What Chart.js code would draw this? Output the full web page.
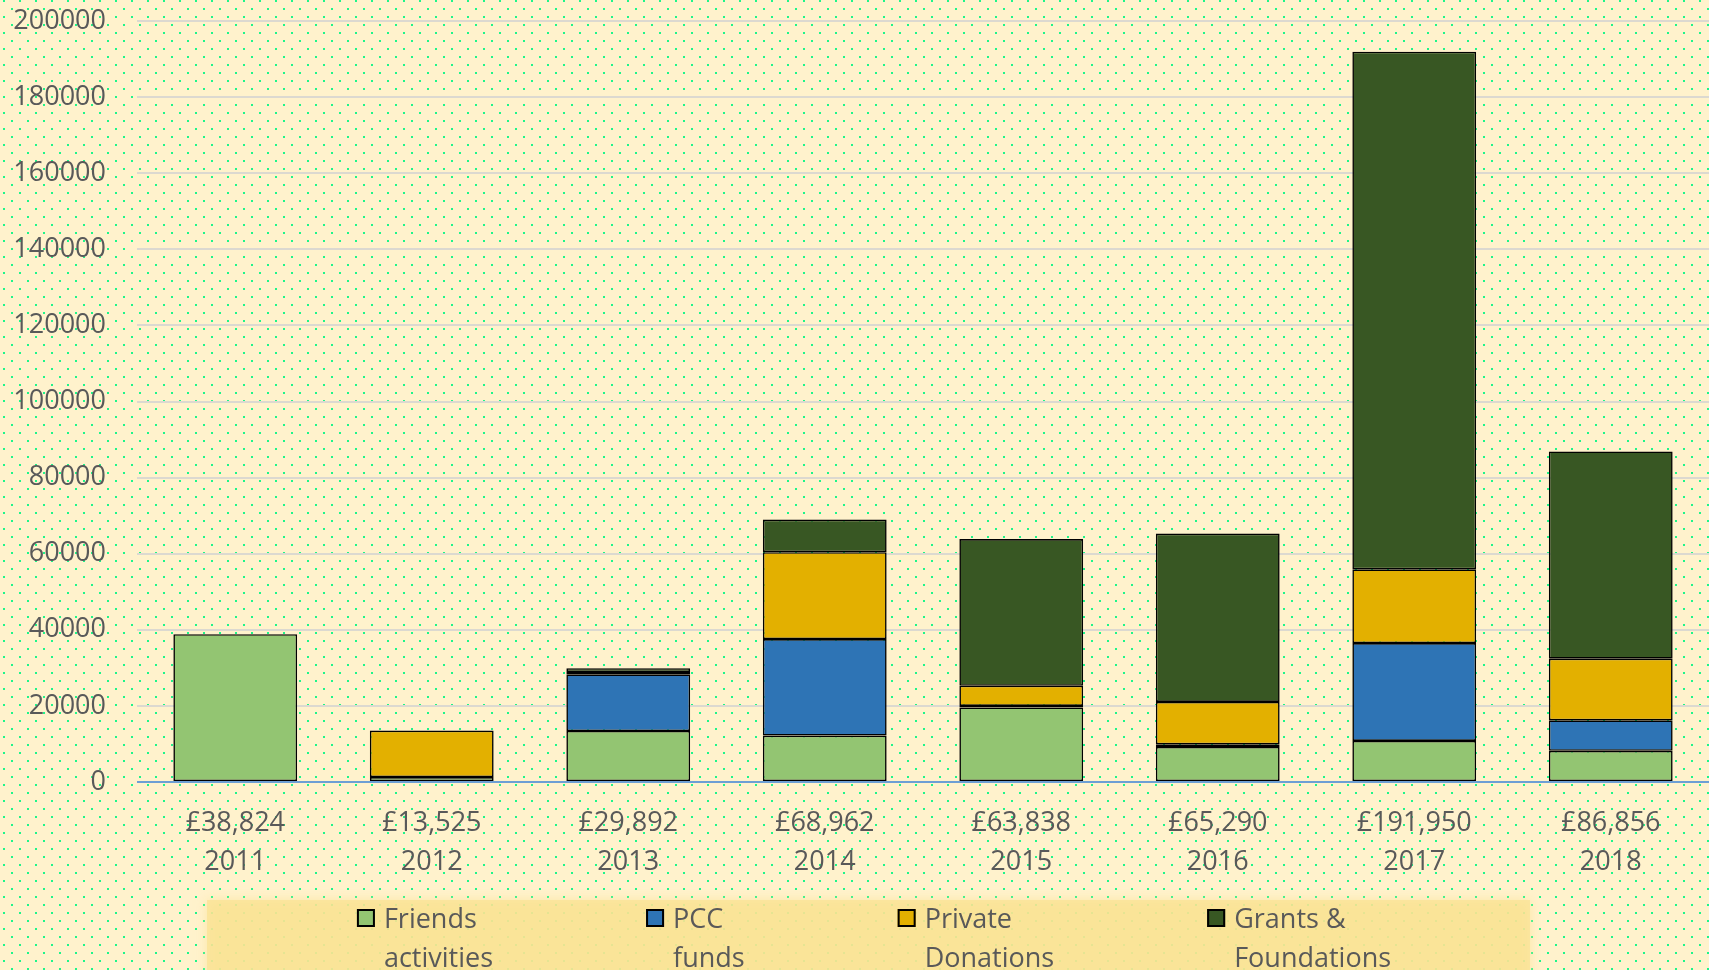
<!DOCTYPE html>
<html>
<head>
<meta charset="utf-8">
<script src="https://cdn.jsdelivr.net/npm/chart.js@4"></script>
<style>
  html, body { margin: 0; padding: 0; background: #fff2cc; }
  #wrap { width: 1709px; height: 970px; position: relative; }
</style>
</head>
<body>
<div id="wrap"><canvas id="c"></canvas></div>
<script>
// ---- data ----
const years = ["2011", "2012", "2013", "2014", "2015", "2016", "2017", "2018"];
const totalLabels = ["£38,824", "£13,525", "£29,892", "£68,962", "£63,838", "£65,290", "£191,950", "£86,856"];
const friendsActivities = [38824, 1300, 13400, 12200, 19600, 9200, 10800, 8200];
const pccFunds = [0, 0, 14900, 25350, 400, 700, 25700, 8000];
const privateDonations = [0, 12225, 600, 22850, 5300, 11150, 19400, 16200];
const grantsFoundations = [0, 0, 992, 8562, 38538, 44240, 136050, 54456];
const seriesNames = [["Friends", "activities"], ["PCC", "funds"], ["Private", "Donations"], ["Grants &", "Foundations"]];
const yTicks = [0, 20000, 40000, 60000, 80000, 100000, 120000, 140000, 160000, 180000, 200000];

const colors = ["#93c572", "#2e74b5", "#e3b000", "#385723"];
const FONT = '"Open Sans", "DejaVu Sans", sans-serif';
const FSIZE = 27;
const TEXT = "#595959";

Chart.defaults.font.family = FONT;
Chart.defaults.font.size = FSIZE;
Chart.defaults.color = TEXT;

// background: cream with staggered green dots
const bgPlugin = {
  id: "bg",
  beforeDraw(chart) {
    const ctx = chart.ctx;
    const tile = document.createElement("canvas");
    tile.width = 16; tile.height = 16;
    const t = tile.getContext("2d");
    t.fillStyle = "#fff2cc";
    t.fillRect(0, 0, 16, 16);
    t.fillStyle = "#1ef58a";
    t.fillRect(3, 0, 2, 2);
    t.fillRect(11, 8, 2, 2);
    ctx.save();
    ctx.fillStyle = ctx.createPattern(tile, "repeat");
    ctx.fillRect(0, 0, chart.width, chart.height);
    ctx.restore();
  }
};

// legend drawn below the plot (two-line labels)
const legendPlugin = {
  id: "twoLineLegend",
  afterDraw(chart) {
    const ctx = chart.ctx;
    ctx.save();
    const boxL = 207, boxT = 900, boxR = 1530;
    ctx.shadowColor = "rgba(250,226,147,0.9)";
    ctx.shadowBlur = 10;
    ctx.fillStyle = "rgba(250,226,147,0.73)";
    ctx.fillRect(boxL, boxT, boxR - boxL, 90);
    ctx.shadowBlur = 0;
    ctx.font = FSIZE + "px " + FONT;
    const gap = 153, markerToText = 27, lineH = 38.5;
    const widths = seriesNames.map(lines => markerToText + Math.max(...lines.map(l => ctx.measureText(l).width)));
    const total = widths.reduce((a, b) => a + b, 0) + gap * (widths.length - 1);
    let x = 874 - total / 2;
    chart.data.datasets.forEach((ds, i) => {
      ctx.fillStyle = ds.backgroundColor;
      ctx.fillRect(x, 909, 18, 18);
      ctx.strokeStyle = "#000";
      ctx.lineWidth = 2;
      ctx.strokeRect(x + 1, 910, 16, 16);
      ctx.fillStyle = TEXT;
      ctx.textBaseline = "alphabetic";
      ctx.textAlign = "left";
      seriesNames[i].forEach((line, j) => {
        ctx.fillText(line, x + markerToText, 928 + j * lineH);
      });
      x += widths[i] + gap;
    });
    ctx.restore();
  }
};

const datasets = [friendsActivities, pccFunds, privateDonations, grantsFoundations].map((d, i) => ({
  label: seriesNames[i].join(" "),
  data: d,
  backgroundColor: colors[i],
  borderColor: "#000000",
  borderWidth: 1.6,
  borderSkipped: false,
  categoryPercentage: 0.63,
  barPercentage: 1
}));

new Chart(document.getElementById("c"), {
  type: "bar",
  data: {
    labels: years.map((y, i) => [totalLabels[i], y]),
    datasets
  },
  options: {
    responsive: true,
    maintainAspectRatio: false,
    animation: false,
    layout: { padding: { top: 21, right: 0, left: 0, bottom: 0 } },
    plugins: {
      legend: { display: false },
      tooltip: { enabled: false }
    },
    scales: {
      x: {
        stacked: true,
        grid: { display: false, drawTicks: false },
        border: { display: false },
        ticks: {
          padding: 22,
          color: TEXT,
          font: { size: FSIZE, lineHeight: 1.44 },
          maxRotation: 0,
          autoSkip: false
        },
        afterFit(scale) { scale.height = 188; }
      },
      y: {
        stacked: true,
        min: 0,
        max: 200000,
        afterBuildTicks(scale) { scale.ticks = yTicks.map(v => ({ value: v })); },
        grid: {
          drawTicks: false,
          lineWidth: 2,
          color: (c) => (c.tick && c.tick.value === 0) ? "#6d9fd4" : "#dcd9d0"
        },
        border: { display: false },
        ticks: {
          padding: 31,
          color: TEXT,
          font: { size: FSIZE },
          callback: (v) => String(v)
        },
        afterFit(scale) {
          scale.width = 137;
          scale.paddingTop = 0;
          scale.paddingBottom = 0;
        }
      }
    }
  },
  plugins: [bgPlugin, legendPlugin]
});
</script>
</body>
</html>
